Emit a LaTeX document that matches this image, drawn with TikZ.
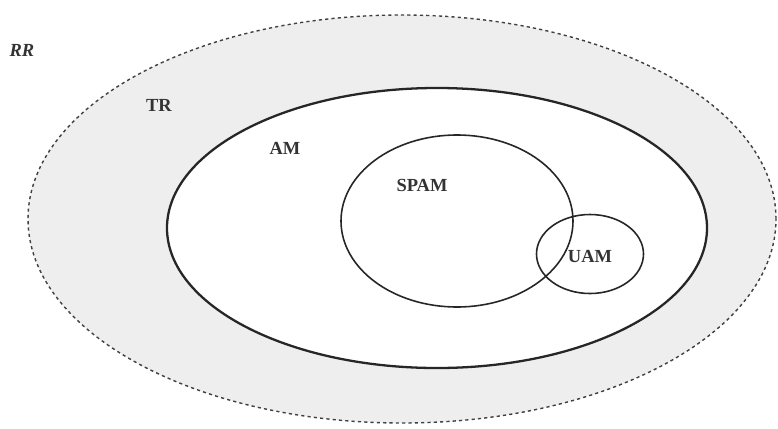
\documentclass[tikz,border=0pt]{standalone}
\usepackage{fontspec}
\setmainfont{Liberation Serif}
\usepackage{xcolor}
\definecolor{rrgray}{RGB}{238,238,238}
\usetikzlibrary{shapes.geometric,positioning}

\begin{document}
\begin{tikzpicture}[font=\fontsize{10.5}{12}\selectfont\bfseries]
    \tikzset{setring/.style={ellipse, inner sep=0pt, draw=black!85}}
    \tikzset{setlabel/.style={text=black!80, inner sep=1pt}}
    \useasboundingbox (0,0) rectangle (15.56,8.56);

    % RR region (dashed)
    \node[setring, fill=rrgray, draw=black!75, line width=0.8pt, dash pattern=on 1.8pt off 1.8pt,
          minimum width=14.96cm, minimum height=8.16cm] (rr) at (8.04,4.18) {};

    % TR region
    \node[setring, fill=white, line width=1.3pt, minimum width=10.8cm,
          minimum height=5.6cm] (tr) at (8.74,4.0) {};

    % SPAM and UAM
    \node[setring, line width=0.9pt, minimum width=4.64cm, minimum height=3.44cm]
      (spam) at (9.14,4.14) {};
    \node[setring, line width=0.9pt, minimum width=2.14cm, minimum height=1.58cm]
      (uam) at (11.8,3.48) {};

    % Labels
    \node[setlabel, font=\fontsize{10.5}{12}\selectfont\bfseries\itshape] (rrlabel) at (0.44,7.56) {RR};
    \node[setlabel] (trlabel) at (3.18,6.46) {TR};
    \node[setlabel] (amlabel) at (5.7,5.6) {AM};
    \node[setlabel] (spamlabel) at (8.44,4.86) {SPAM};
    \node[setlabel] (uamlabel) at (11.8,3.44) {UAM};
  \end{tikzpicture}
\end{document}
